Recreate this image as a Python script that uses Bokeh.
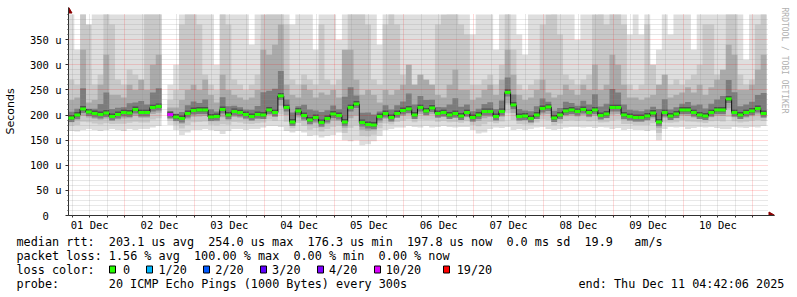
import re
import math
from datetime import datetime, timedelta
from bokeh.plotting import figure
from bokeh.layouts import column, row
from bokeh.models import FixedTicker, Range1d, Title
from bokeh.core.properties import value
from bokeh.embed import file_html
from bokeh.resources import INLINE

nan = float("nan")

START = datetime(2025, 12, 1, 4, 42, 6)
END = datetime(2025, 12, 11, 4, 42, 6)
STEP = timedelta(hours=2)

# median round-trip time per 2h step (microseconds)
median_us = [
    194, 200, 212, 206, 203, 201, 204, 197, 201, 205,
    204, 211, 205, 205, 215, 217, nan, 201, 196, 193,
    203, 209, 210, 210, 196, 197, 211, 200, 207, 205,
    201, 197, 201, 200, 210, 205, 238, 215, 186, 208,
    199, 190, 195, 185, 193, 202, 199, 186, 215, 222,
    185, 181, 180, 197, 203, 195, 203, 209, 212, 200,
    215, 208, 214, 203, 205, 200, 203, 198, 205, 195,
    200, 207, 207, 197, 207, 245, 220, 197, 198, 193,
    200, 213, 216, 194, 200, 208, 210, 207, 211, 205,
    210, 199, 202, 215, 215, 200, 197, 195, 195, 198,
    204, 186, 205, 198, 202, 210, 210, 205, 200, 198,
    205, 210, 210, 232, 205, 200, 205, 208, 213, 203,
]
# highest ping (outer smoke top), clipped at the chart top
top_us = [
    400, 330, 400, 290, 400, 400, 400, 400, 400, 400,
    400, 400, 400, 400, 400, 400, nan, 260, 300, 400,
    400, 400, 400, 400, 400, 300, 400, 400, 400, 400,
    400, 340, 400, 360, 400, 400, 400, 400, 380, 400,
    400, 400, 330, 400, 400, 400, 350, 400, 400, 400,
    400, 400, 400, 340, 400, 400, 400, 400, 400, 400,
    400, 400, 400, 400, 370, 400, 400, 400, 400, 360,
    400, 400, 400, 330, 400, 400, 400, 360, 320, 400,
    400, 400, 350, 400, 400, 400, 400, 350, 400, 400,
    380, 400, 400, 400, 400, 400, 360, 400, 360, 400,
    300, 330, 400, 360, 400, 400, 400, 330, 400, 400,
    400, 400, 400, 400, 400, 400, 310, 400, 400, 400,
]
# top of the medium-grey smoke band
mid_us = [
    270, 260, 400, 380, 260, 280, 400, 380, 270, 260,
    290, 280, 270, 400, 400, 400, nan, 230, 250, 380,
    400, 400, 380, 280, 260, 250, 400, 380, 270, 260,
    250, 260, 280, 400, 400, 400, 400, 380, 270, 260,
    280, 270, 260, 380, 270, 260, 270, 300, 400, 400,
    400, 380, 270, 260, 380, 400, 380, 280, 270, 260,
    280, 270, 260, 380, 400, 400, 400, 380, 360, 260,
    260, 270, 280, 260, 300, 400, 330, 260, 250, 260,
    270, 380, 400, 400, 360, 280, 270, 260, 270, 280,
    400, 400, 380, 400, 400, 380, 260, 250, 260, 380,
    300, 260, 280, 260, 270, 260, 270, 280, 300, 380,
    380, 280, 270, 400, 400, 280, 260, 270, 380, 400,
]
# top of the dark-grey smoke band
dark_us = [
    230, 235, 330, 225, 230, 260, 320, 240, 240, 235,
    260, 250, 270, 250, 300, 320, nan, 215, 215, 230,
    250, 260, 250, 270, 240, 225, 280, 250, 240, 235,
    230, 235, 250, 330, 320, 340, 380, 260, 240, 235,
    260, 250, 235, 245, 240, 250, 235, 330, 330, 270,
    240, 250, 240, 225, 250, 240, 250, 260, 300, 260,
    280, 270, 260, 240, 235, 260, 290, 250, 250, 230,
    235, 250, 260, 240, 270, 330, 280, 240, 230, 235,
    250, 270, 245, 235, 240, 260, 250, 240, 260, 250,
    300, 250, 260, 320, 300, 260, 235, 235, 230, 235,
    240, 260, 280, 235, 240, 245, 255, 245, 260, 240,
    255, 270, 290, 340, 320, 250, 250, 260, 290, 320,
]
# lowest ping (smoke bottom)
low_us = [
    168, 167, 170, 172, 170, 168, 170, 172, 170, 168,
    172, 170, 172, 172, 175, 178, nan, 180, 170, 160,
    165, 170, 170, 172, 170, 168, 162, 168, 172, 172,
    170, 172, 172, 175, 178, 178, 176, 168, 165, 168,
    165, 158, 160, 155, 158, 160, 165, 150, 148, 150,
    140, 142, 148, 158, 170, 172, 175, 175, 178, 176,
    175, 178, 175, 176, 178, 176, 175, 176, 176, 170,
    163, 165, 172, 175, 174, 176, 170, 172, 170, 172,
    175, 176, 172, 170, 172, 175, 176, 176, 175, 176,
    174, 176, 175, 172, 174, 170, 172, 170, 170, 168,
    170, 150, 172, 176, 175, 176, 172, 174, 176, 175,
    176, 174, 172, 172, 176, 175, 174, 176, 175, 178,
]
# lost pings out of 20 per step
loss_of20 = [0] * 120
loss_of20[17] = 10

day_labels = ["01 Dec", "02 Dec", "03 Dec", "04 Dec", "05 Dec",
              "06 Dec", "07 Dec", "08 Dec", "09 Dec", "10 Dec"]
y_ticks = [0, 50, 100, 150, 200, 250, 300, 350]
y_tick_labels = ["0\u00a0\u00a0", "50 u", "100 u", "150 u", "200 u", "250 u", "300 u", "350 u"]

loss_levels = [0, 1, 2, 3, 4, 10, 19]
loss_names = ["0", "1/20", "2/20", "3/20", "4/20", "10/20", "19/20"]
loss_colors = ["#26ff00", "#00b8ff", "#0059ff", "#5e00ff", "#7e00ff", "#dd00ff", "#ff0000"]

line1 = "median rtt:  203.1 us avg  254.0 us max  176.3 us min  197.8 us now  0.0 ms sd  19.9   am/s"
line2 = "packet loss: 1.56 % avg  100.00 % max  0.00 % min  0.00 % now"
line4 = "probe:       20 ICMP Echo Pings (1000 Bytes) every 300s"
end_text = "end: Thu Dec 11 04:42:06 2025"
credit = "RRDTOOL / TOBI OETIKER"


def ms(dt):
    return (dt - datetime(1970, 1, 1)).total_seconds() * 1000.0


t0, t1 = ms(START), ms(END)
n = len(median_us)
lefts = [ms(START + i * STEP) for i in range(n)]
rights = [ms(START + (i + 1) * STEP) for i in range(n)]

W = 797
H_MAIN, H_LEG = 233, 64
# plot frame (pixels): data area 66..766 x 14..215, axes run on to the arrows
FL, FR_DATA, FR, FT, FT_DATA, FB = 66, 766, 774, 7, 14, 215
YMAX = 400


def X(px):
    return t0 + (px - FL) / (FR_DATA - FL) * (t1 - t0)


def Y(py):
    return (FB - py) / (FB - FT_DATA) * YMAX


p = figure(width=W, height=H_MAIN, output_backend="svg", toolbar_location=None,
           x_range=Range1d(t0, X(FR)), y_range=Range1d(0, Y(FT)),
           min_border_left=FL, min_border_right=W - FR, min_border_top=FT,
           min_border_bottom=H_MAIN - FB, background_fill_color="white",
           border_fill_color="white", outline_line_color=None)


def runs(vals):
    out, cur = [], []
    for i, v in enumerate(vals):
        if isinstance(v, float) and math.isnan(v):
            if cur:
                out.append(cur)
            cur = []
        else:
            cur.append(i)
    if cur:
        out.append(cur)
    return out


def band(bottom, top, color):
    for run in runs(median_us):
        xs, y1, y2 = [], [], []
        for i in run:
            xs += [lefts[i], rights[i]]
            y1 += [bottom[i], bottom[i]]
            y2 += [min(top[i], YMAX), min(top[i], YMAX)]
        p.varea(x=xs, y1=y1, y2=y2, fill_color=color, fill_alpha=1)


b2 = [lo + 0.40 * (m - lo) for lo, m in zip(low_us, median_us)]
b3 = [lo + 0.68 * (m - lo) for lo, m in zip(low_us, median_us)]
b4 = [m - 8 for m in median_us]
t4 = [m + max(6, 0.35 * (d - m)) for m, d in zip(median_us, dark_us)]
b5 = [m - 3 for m in median_us]
t5 = [m + 6 for m in median_us]

band(low_us, top_us, "#dedede")
band(b2, mid_us, "#c8c8c8")
band(b3, dark_us, "#aaaaaa")
band(b4, t4, "#7c7c7c")
band(b5, t5, "#505050")


def loss_color(k):
    col = loss_colors[0]
    for lv, c in zip(loss_levels, loss_colors):
        if k >= lv:
            col = c
    return col


# median: dark risers + loss-coloured 3px steps
vx, vy0, vy1 = [], [], []
for i in range(n - 1):
    a, b = median_us[i], median_us[i + 1]
    if not (math.isnan(a) or math.isnan(b)):
        vx.append(rights[i]); vy0.append(a); vy1.append(b)
r1 = p.segment(x0=vx, x1=vx, y0=vy0, y1=vy1, line_color="#101010", line_width=1)
hx0, hx1, hy, hc = [], [], [], []
for i in range(n):
    if not math.isnan(median_us[i]):
        hx0.append(lefts[i]); hx1.append(rights[i]); hy.append(median_us[i])
        hc.append(loss_color(loss_of20[i]))
r2 = p.segment(x0=hx0, x1=hx1, y0=hy, y1=hy, line_color=hc, line_width=3, line_cap="butt")
r1.level = "annotation"
r2.level = "annotation"

# grids
day0 = datetime(2025, 12, 1)
midnights = [ms(day0 + timedelta(days=d)) for d in range(1, 11)]
six_h = [ms(day0 + timedelta(hours=h)) for h in range(6, 11 * 24, 6)]
six_h = [v for v in six_h if t0 <= v <= t1]
noons = [ms(day0 + timedelta(days=d, hours=12)) for d in range(10)]

GRID_RED, GRID_GREY = "#ff0000", "#8f8f8f"
p.xgrid.ticker = FixedTicker(ticks=midnights, minor_ticks=[v for v in six_h if v not in midnights])
p.ygrid.ticker = FixedTicker(ticks=list(range(50, 400, 50)),
                             minor_ticks=[v for v in range(10, 410, 10) if v % 50])
for g in (p.xgrid[0], p.ygrid[0]):
    g.grid_line_color = GRID_RED
    g.grid_line_alpha = 0.3
    g.grid_line_dash = "1 1"
    g.minor_grid_line_color = GRID_GREY
    g.minor_grid_line_alpha = 0.4
    g.minor_grid_line_dash = "1 1"
    g.level = "guide"
try:
    p.xgrid[0].cross_bounds = (0, YMAX)
    p.ygrid[0].cross_bounds = (t0, X(768))
except Exception:
    pass

AX = "#303030"
MONO = "DejaVu Sans Mono"

xa = p.xaxis[0]
xa.ticker = FixedTicker(ticks=noons, minor_ticks=six_h)
xa.major_label_overrides = {v: lbl for v, lbl in zip(noons, day_labels)}
xa.major_tick_out = 0
xa.major_tick_in = 0
xa.minor_tick_out = 2
xa.minor_tick_in = 0
xa.minor_tick_line_color = AX
xa.axis_line_color = AX
xa.major_label_text_font = MONO
xa.major_label_text_font_size = "10.5px"
xa.major_label_text_color = "black"
xa.major_label_standoff = 1

ya = p.yaxis[0]
ya.ticker = FixedTicker(ticks=y_ticks, minor_ticks=list(range(0, 410, 10)))
ya.major_label_overrides = {v: lbl for v, lbl in zip(y_ticks, y_tick_labels)}
ya.major_tick_out = 3
ya.major_tick_in = 0
ya.minor_tick_out = 1
ya.minor_tick_in = 0
ya.major_tick_line_color = AX
ya.minor_tick_line_color = AX
ya.axis_line_color = AX
ya.major_label_text_font = MONO
ya.major_label_text_font_size = "10.5px"
ya.major_label_text_color = "black"
ya.major_label_standoff = 4
ya.axis_label = "Seconds"
ya.axis_label_text_font = "DejaVu Sans"
ya.axis_label_text_font_style = "normal"
ya.axis_label_text_font_size = "11px"
ya.axis_label_text_color = "black"
ya.axis_label_standoff = 10

# axis arrow heads
ARR = "#8b0000"
p.scatter(x=[t0], y=[Y(10.5)], marker="triangle", size=7, fill_color=ARR, line_color=ARR)
p.scatter(x=[X(770.5)], y=[0], marker="triangle", size=7, angle=-math.pi / 2,
          fill_color=ARR, line_color=ARR)

p.add_layout(Title(text=credit, align="left", text_font=MONO, text_font_size="8px",
                   text_font_style="normal", text_color="#b0b0b0", standoff=10), "right")

# ---- legend block below the plot (canvas pixel coordinates) ----
q = figure(width=W, height=H_LEG, output_backend="svg", toolbar_location=None,
           x_range=Range1d(0, W), y_range=Range1d(H_MAIN + H_LEG, H_MAIN),
           min_border=0, min_border_left=0, min_border_right=0,
           min_border_top=0, min_border_bottom=0,
           x_axis_location=None, y_axis_location=None,
           background_fill_color="white", border_fill_color="white",
           outline_line_color=None)
q.xgrid.visible = False
q.ygrid.visible = False

CW = 7.1
LX = 16
FS = "11.8px"
tx, ty, tt = [], [], []


def put_line(s, py):
    for m in re.finditer(r"\S+(?: \S+)*", s):
        tx.append(LX + m.start() * CW); ty.append(py); tt.append(m.group(0))


put_line(line1, 241)
put_line(line2, 255)
put_line("loss color:", 269)
put_line(line4, 283)
tx.append(578); ty.append(283); tt.append(end_text)
txt_col = [15, 20, 28, 36, 44, 52, 62]
for col, name in zip(txt_col, loss_names):
    tx.append(LX + col * CW); ty.append(269); tt.append(name)

q.text(x=tx, y=ty, text=tt, text_font=value(MONO), text_font_size=value(FS),
       text_color="black", text_baseline="middle", text_align="left")

sq_x = [109, 146, 203, 260, 317, 374, 443]
q.quad(left=sq_x, right=[s + 6 for s in sq_x], top=[265.5] * 7, bottom=[272.5] * 7,
       fill_color=loss_colors, line_color="black", line_width=1)

aligned_off = True
for fig in (p, q):
    try:
        fig.frame_align = False
    except Exception:
        aligned_off = False

if aligned_off:
    layout = column(p, q, spacing=0)
else:
    layout = column(p, row(q), spacing=0)
open("out.html", "w").write(file_html(layout, INLINE))
